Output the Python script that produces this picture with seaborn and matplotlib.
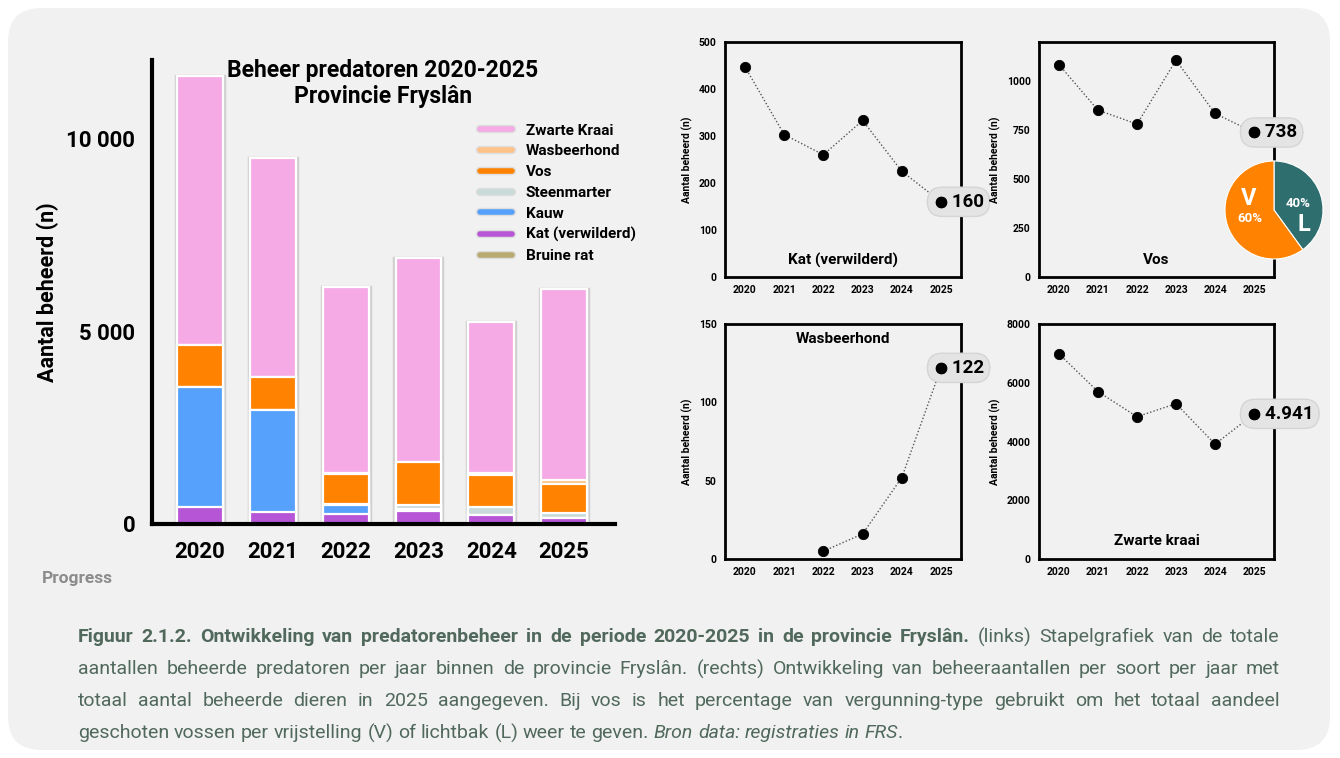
import numpy as np
import pandas as pd
import matplotlib
matplotlib.use("Agg")
import matplotlib.pyplot as plt
import seaborn as sns
from matplotlib.lines import Line2D
from matplotlib.patches import FancyBboxPatch
import matplotlib.patheffects as pe

# ---------------- data ----------------
years = [2020, 2021, 2022, 2023, 2024, 2025]
bruine_rat = [0, 0, 0, 0, 0, 0]
kat = [447, 303, 260, 333, 225, 160]
kauw = [3118, 2650, 240, 50, 20, 0]
steenmarter = [0, 0, 30, 110, 200, 130]
vos = [1085, 852, 781, 1107, 835, 738]
wasbeerhond = [0, 0, 5, 16, 52, 122]
zwarte_kraai = [6986, 5698, 4843, 5288, 3909, 4941]

wasb_years = [2022, 2023, 2024, 2025]
wasb_vals = [5, 16, 52, 122]

vos_pie_labels = ["L", "V"]
vos_pie_pct = [40, 60]

species = ["Bruine rat", "Kat (verwilderd)", "Kauw", "Steenmarter", "Vos", "Wasbeerhond", "Zwarte Kraai"]
colors = ["#B9AA72", "#B656D6", "#56A1FC", "#C9DADA", "#FF8200", "#FFC38A", "#F5AAE6"]

df = pd.DataFrame({"Jaar": [str(y) for y in years],
                   "Bruine rat": bruine_rat, "Kat (verwilderd)": kat, "Kauw": kauw,
                   "Steenmarter": steenmarter, "Vos": vos, "Wasbeerhond": wasbeerhond,
                   "Zwarte Kraai": zwarte_kraai})
cum = df[species].cumsum(axis=1)
cum["Jaar"] = df["Jaar"]

# ---------------- figure ----------------
sns.set_theme(style="white")
plt.rcParams["font.family"] = ["Roboto", "DejaVu Sans"]
for k in ["text.color", "axes.labelcolor", "xtick.color", "ytick.color"]:
    plt.rcParams[k] = "black"
fig = plt.figure(figsize=(13.4, 7.58), dpi=100)
fig.patch.set_facecolor("white")
W, H = 1340, 758

card = FancyBboxPatch((8 / W, 8 / H), 1322 / W, 742 / H, boxstyle="round,pad=0,rounding_size=0.025",
                      transform=fig.transFigure, facecolor="#F1F1F1", edgecolor="none", zorder=-10,
                      mutation_aspect=W / H)
fig.patches.append(card)

# ---------------- stacked bars (left) ----------------
ax = fig.add_axes([152 / W, 1 - 524 / H, 463 / W, 464 / H])
ax.set_facecolor("none")
# grey outline around each full bar
sns.barplot(data=cum, x="Jaar", y="Zwarte Kraai", color=colors[-1], saturation=1, width=0.66,
            edgecolor="#CFCFCF", linewidth=2.5, ax=ax)
for sp, c in zip(species[::-1], colors[::-1]):
    sns.barplot(data=cum, x="Jaar", y=sp, color=c, saturation=1, width=0.63,
                edgecolor="white", linewidth=1.6, ax=ax)
ax.set_xlim(-0.66, 5.7)
ax.set_ylim(0, 12050)
ax.set_yticks([0, 5000, 10000])
ax.set_yticklabels(["0", "5 000", "10 000"])
ax.set_xlabel("")
ax.set_ylabel("Aantal beheerd (n)", fontsize=15.5, fontweight="bold", labelpad=5)
for s in ["top", "right"]:
    ax.spines[s].set_visible(False)
for s in ["left", "bottom"]:
    ax.spines[s].set_linewidth(3)
    ax.spines[s].set_color("black")
ax.tick_params(axis="both", direction="out", length=6, width=3, labelsize=16, pad=6)
for lab in ax.get_xticklabels() + ax.get_yticklabels():
    lab.set_fontweight("bold")

fig.text(383 / W, 1 - 70 / H, "Beheer predatoren 2020-2025", ha="center", va="center",
         fontsize=16.5, fontweight="bold")
fig.text(383 / W, 1 - 96 / H, "Provincie Fryslân", ha="center", va="center",
         fontsize=16.5, fontweight="bold")

handles = [Line2D([0], [0], color=c, lw=4,
                  path_effects=[pe.Stroke(linewidth=6, foreground="#DDDDDD"), pe.Normal()])
           for c in colors[::-1]]
leg = fig.legend(handles, species[::-1], loc="upper left", bbox_to_anchor=(466 / W, 1 - 110 / H),
                 frameon=False, prop={"size": 11, "weight": "bold"}, handlelength=2.1,
                 labelspacing=0.44, handletextpad=0.9)

fig.text(42 / W, 1 - 578 / H, "Progress", ha="left", va="center", fontsize=12.5,
         fontweight="bold", color="#8C8C8C")

# ---------------- small line charts ----------------
def small_chart(rect, xs, ys, ylim, yticks, name, name_y, last):
    a = fig.add_axes(rect)
    a.set_facecolor("none")
    sns.lineplot(x=xs, y=ys, ax=a, color="#555555", linestyle=(0, (1, 1.5)), linewidth=1)
    sns.scatterplot(x=xs, y=ys, ax=a, color="black", s=55, edgecolor="black", zorder=5,
                    clip_on=False)
    a.set_xlim(2019.49, 2025.51)
    a.set_ylim(*ylim)
    a.set_xticks(years)
    a.set_yticks(yticks)
    a.set_ylabel("Aantal beheerd (n)", fontsize=7.5, fontweight="bold", labelpad=4)
    a.set_xlabel("")
    for s in a.spines.values():
        s.set_linewidth(2)
        s.set_color("black")
    a.tick_params(axis="both", direction="out", length=3, width=1.5, labelsize=7.5, pad=3)
    for lab in a.get_xticklabels() + a.get_yticklabels():
        lab.set_fontweight("bold")
    a.text(0.5, name_y, name, transform=a.transAxes, ha="center", va="center",
           fontsize=11, fontweight="bold")
    a.annotate("\u2002\u2002" + last, xy=(xs[-1], ys[-1]), xytext=(-8, 0),
               textcoords="offset pixels", ha="left", va="center", fontsize=13.5,
               fontweight="bold", zorder=4,
               bbox=dict(boxstyle="round,pad=0.3,rounding_size=0.8", fc="#E4E4E4",
                         ec="#D5D5D5", lw=1))
    a.scatter([xs[-1]], [ys[-1]], s=55, color="black", zorder=6, clip_on=False)
    return a

ax_kat = small_chart([725 / W, 1 - 277 / H, 236 / W, 235 / H], years, kat, (0, 500),
                     [0, 100, 200, 300, 400, 500], "Kat (verwilderd)", 0.072, "160")
ax_vos = small_chart([1039 / W, 1 - 277 / H, 235 / W, 235 / H], years, vos, (0, 1200),
                     [0, 250, 500, 750, 1000], "Vos", 0.072, "738")
ax_wb = small_chart([725 / W, 1 - 559 / H, 236 / W, 235 / H], wasb_years, wasb_vals, (0, 150),
                    [0, 50, 100, 150], "Wasbeerhond", 0.936, "122")
ax_zk = small_chart([1039 / W, 1 - 559 / H, 235 / W, 235 / H], years, zwarte_kraai, (0, 8000),
                    [0, 2000, 4000, 6000, 8000], "Zwarte kraai", 0.077, "4.941")

# ---------------- pie (vos) ----------------
pax = fig.add_axes([1224 / W, 1 - 260 / H, 100 / W, 100 / H], zorder=10)
pax.pie(vos_pie_pct, colors=["#2E6E6F", "#FF8200"], startangle=90, counterclock=False,
        radius=1, wedgeprops=dict(edgecolor="white", linewidth=0.8))
pax.set_aspect("equal")
pax.set_xlim(-1.02, 1.02)
pax.set_ylim(-1.02, 1.02)
pax.text(-0.52, 0.24, vos_pie_labels[1], color="white", fontsize=17, fontweight="bold", ha="center", va="center")
pax.text(-0.5, -0.17, f"{vos_pie_pct[1]}%", color="white", fontsize=9.5, fontweight="bold", ha="center", va="center")
pax.text(0.5, 0.14, f"{vos_pie_pct[0]}%", color="white", fontsize=9.5, fontweight="bold", ha="center", va="center")
pax.text(0.6, -0.3, vos_pie_labels[0], color="white", fontsize=17, fontweight="bold", ha="center", va="center")

# ---------------- caption (justified) ----------------
cap_col = "#50695C"
cap_fs = 14
cap_lines = [
    ([("Figuur 2.1.2. Ontwikkeling van predatorenbeheer in de periode 2020-2025 in de provincie Fryslân.", "bold", "normal"),
      ("(links) Stapelgrafiek van de totale", "normal", "normal")], True),
    ([("aantallen beheerde predatoren per jaar binnen de provincie Fryslân. (rechts) Ontwikkeling van beheeraantallen per soort per jaar met", "normal", "normal")], True),
    ([("totaal aantal beheerde dieren in 2025 aangegeven. Bij vos is het percentage van vergunning-type gebruikt om het totaal aandeel", "normal", "normal")], True),
    ([("geschoten vossen per vrijstelling (V) of lichtbak (L) weer te geven.", "normal", "normal"),
      ("Bron data: registraties in FRS", "normal", "italic"), (".", "normal", "normal")], False),
]
cap_y = [637, 669, 701, 733]
x0, x1 = 78, 1280
renderer = fig.canvas.get_renderer()
t_aa = fig.text(0, 0, "a a", fontsize=cap_fs)
t_a = fig.text(0, 0, "a", fontsize=cap_fs)
space = t_aa.get_window_extent(renderer).width - 2 * t_a.get_window_extent(renderer).width
t_aa.remove()
t_a.remove()

for (parts, justify), yy in zip(cap_lines, cap_y):
    words = []
    for txt, w, s in parts:
        if txt == ".":
            words[-1] = (words[-1][0], words[-1][1], words[-1][2], ".")
            continue
        for wd in txt.split():
            words.append((wd, w, s, ""))
    objs = []
    for wd, w, s, tail in words:
        objs.append(fig.text(0, 1 - yy / H, wd, fontsize=cap_fs, fontweight=w, fontstyle=s,
                             color=cap_col, va="center", ha="left"))
        if tail:
            objs.append(fig.text(0, 1 - yy / H, tail, fontsize=cap_fs, color=cap_col,
                                 va="center", ha="left"))
    widths = [o.get_window_extent(renderer).width for o in objs]
    if justify:
        gap = max((x1 - x0 - sum(widths)) / (len(words) - 1), 0.6 * space)
    else:
        gap = space
    x = x0
    i = 0
    for wd, w, s, tail in words:
        objs[i].set_x(x / W)
        x += widths[i]
        i += 1
        if tail:
            objs[i].set_x(x / W)
            x += widths[i]
            i += 1
        x += gap

fig.savefig("out.png", dpi=100, facecolor=fig.get_facecolor())
